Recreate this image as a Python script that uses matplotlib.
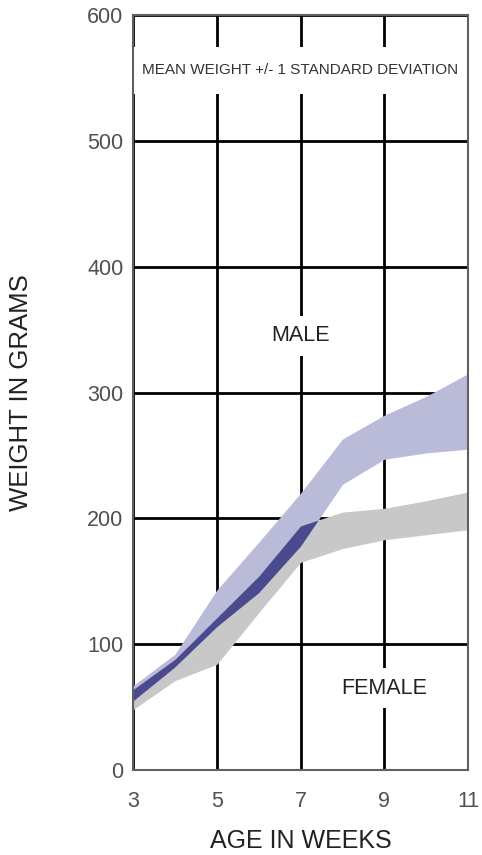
import numpy as np
import matplotlib.pyplot as plt

# age (weeks) and weight band edges (grams), mean +/- 1 SD
weeks = [3, 4, 5, 6, 7, 8, 9, 10, 11]
male_hi = [67, 92, 143, 181, 220, 263, 282, 297, 315]
male_lo = [55, 82, 114, 141, 178, 227, 247, 252, 255]
female_hi = [64, 88, 121, 154, 194, 205, 208, 214, 221]
female_lo = [48, 71, 84, 125, 165, 176, 183, 187, 191]

xticks = [3, 5, 7, 9, 11]
yticks = [0, 100, 200, 300, 400, 500, 600]

male_col = '#babad9'
female_col = '#c8c8c8'
overlap_col = '#4b4a8f'

plt.rcParams['font.family'] = ['Liberation Sans', 'DejaVu Sans']

fig = plt.figure(figsize=(4.82, 8.55), dpi=100)
ax = fig.add_axes([0.276, 0.0994, 0.695, 0.883])

x = np.array(weeks)
mh, ml = np.array(male_hi), np.array(male_lo)
fh, fl = np.array(female_hi), np.array(female_lo)

ax.fill_between(x, ml, mh, color=male_col, lw=0, zorder=2)
ax.fill_between(x, fl, fh, color=female_col, lw=0, zorder=2)
# where the two bands overlap
lo = np.maximum(ml, fl)
hi = np.minimum(mh, fh)
ax.fill_between(x, lo, hi, where=hi >= lo, interpolate=True,
                color=overlap_col, lw=0, zorder=3)

ax.set_xlim(3, 11)
ax.set_ylim(0, 600)
ax.set_xticks(xticks)
ax.set_yticks(yticks)
ax.grid(True, color='black', lw=2)
ax.set_axisbelow(True)
ax.tick_params(length=0, labelsize=15.5, labelcolor='#505050')
ax.tick_params(axis='x', pad=15)
ax.tick_params(axis='y', pad=7)
for s in ax.spines.values():
    s.set_color('#606060')
    s.set_linewidth(1.5)
    s.set_zorder(6)

# clear strip behind the heading
ax.axhspan(537, 575, color='white', lw=0, zorder=1)
ax.text(7, 556, 'MEAN WEIGHT +/- 1 STANDARD DEVIATION', ha='center', va='center',
        fontsize=11, color='#333333', zorder=4)

box = dict(boxstyle='square,pad=0.45', fc='white', ec='none')
ax.text(7, 345, 'MALE', ha='center', va='center', fontsize=15.5,
        color='#222222', bbox=box, zorder=4)
ax.text(9, 65, 'FEMALE', ha='center', va='center', fontsize=15.5,
        color='#222222', bbox=box, zorder=4)

ax.set_xlabel('AGE IN WEEKS', fontsize=18, color='#222222')
ax.set_ylabel('WEIGHT IN GRAMS', fontsize=18.5, color='#222222')
ax.xaxis.set_label_coords(0.5, -0.078)
ax.yaxis.set_label_coords(-0.30, 0.5)

fig.savefig('out.png', dpi=100)
